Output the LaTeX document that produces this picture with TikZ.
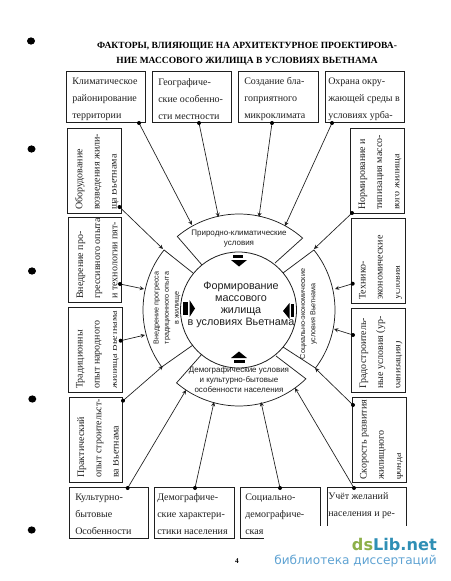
\documentclass[tikz,border=0pt]{standalone}
\usepackage{fontspec}
\setmainfont{Liberation Serif}
\setsansfont{Liberation Sans}
\newfontfamily\wmfont{DejaVu Sans}
\usetikzlibrary{arrows.meta,calc}
\definecolor{ink}{gray}{0.12}
\definecolor{wmgreen}{HTML}{8DB04A}
\definecolor{wmteal}{HTML}{2F8FB5}
\definecolor{wmblue}{HTML}{5FA3D3}
\tikzset{
  x=.75pt,y=-.75pt,
  boxst/.style={draw=ink,line width=.6pt,inner sep=0pt,fill=white},
  lbl/.style={text=ink,inner sep=0pt,align=left,anchor=west,font=\fontsize{7.5}{12.9}\selectfont},
  vlbl/.style={lbl,rotate=90},
  sect/.style={draw=ink,line width=.55pt},
  stxt/.style={text=ink,inner sep=0pt,align=center,font=\sffamily\fontsize{6}{7.4}\selectfont},
  stxtv/.style={stxt,rotate=90,font=\sffamily\fontsize{5.4}{7.6}\selectfont},
  conn/.style={draw=ink,line width=.5pt,-{Stealth[length=3.2pt,width=3pt]}},
  enddot/.style={fill=black,draw=none},
  solid black/.style={fill=black,draw=none},
  cover/.style={fill=white,draw=none}
}
\newcommand\bx[5]{%
  \pgfmathsetlengthmacro\bw{(#4-#2)*.75}%
  \pgfmathsetlengthmacro\bh{(#5-#3)*.75}%
  \node[boxst,minimum width=\bw,minimum height=\bh] (#1) at ({(#2+#4)/2},{(#3+#5)/2}) {};}
\newcommand\cn[4]{%
  \coordinate (#1) at (#2); \coordinate (#3) at (#4);
  \draw[conn] (#1) -- (#3); \fill[enddot] (#1) circle[radius=2];}
\begin{document}
\begin{tikzpicture}
\useasboundingbox (0,0) rectangle (450,581);
\fill[white] (0,0) rectangle (450,581);
% ink blots
\foreach \bxx/\byy in {31/41,31.5/149,32/271,32.3/399,31.7/530}
  \fill[solid black] (\bxx,\byy) ellipse[x radius=4,y radius=3.6];
% title
\node[text=black,inner sep=0pt,font=\bfseries\fontsize{7.1}{11.2}\selectfont,align=center] (title) at (247,53.5)
  {ФАКТОРЫ, ВЛИЯЮЩИЕ НА АРХИТЕКТУРНОЕ ПРОЕКТИРОВА-\\НИЕ МАССОВОГО ЖИЛИЩА В УСЛОВИЯХ ВЬЕТНАМА};
% top row
\bx{t1}{66.5}{71.5}{145.5}{122.5}
\bx{t2}{152.5}{71.5}{231.5}{122.5}
\bx{t3}{238.5}{71.5}{318}{122.5}
\bx{t4}{325}{71.5}{404}{122.5}
\node[lbl] (t1t) at (72,99) {Климатическое\\районирование\\территории};
\node[lbl] (t2t) at (158,99) {Географиче-\\ские особенно-\\сти местности};
\node[lbl] (t3t) at (244,99) {Создание бла-\\гоприятного\\микроклимата};
\node[lbl] (t4t) at (328,99) {Охрана окру-\\жающей среды в\\условиях урба-};
% left column
\bx{l1}{67}{128}{121}{213}
\bx{l2}{68}{217}{121.5}{302}
\bx{l3}{68.5}{307}{122}{392}
\bx{l4}{69}{397}{122.5}{482}
\node[vlbl] (l1t) at (97,210) {Оборудование\\возведения жили-\\ща Вьетнама};
\node[vlbl] (l2t) at (97,299) {Внедрение про-\\грессивного опыта\\и технологии пят-};
\node[vlbl] (l3t) at (97.5,389) {Традиционны\\опыт народного\\жилища Вьетнама};
\node[vlbl] (l4t) at (98,478) {Практический\\опыт строительст-\\ва Вьетнама};
% third lines are cut by the cell in the scan
\fill[cover] (106,130) rectangle (112,211);
\fill[cover] (106,219) rectangle (112,300);
\fill[cover] (106.5,309) rectangle (112.5,390);
\fill[cover] (107,399) rectangle (113,480);
% right column
\bx{r1}{350}{128}{404}{213}
\bx{r2}{351}{218}{405}{303}
\bx{r3}{351.5}{308}{405.5}{392}
\bx{r4}{352}{397}{406}{482}
\node[vlbl] (r1t) at (380,210) {Нормирование и\\типизация массо-\\вого жилища};
\node[vlbl] (r2t) at (380.5,300) {Технико-\\экономические\\условия};
\node[vlbl] (r3t) at (381,389) {Градостроитель-\\ные условия (ур-\\банизация)};
\node[vlbl] (r4t) at (381.5,480) {Скорость развития\\жилищного\\фонда};
\fill[cover] (389,130) rectangle (395,211);
\fill[cover] (389.5,220) rectangle (395.5,301);
\fill[cover] (390,310) rectangle (396,390);
\fill[cover] (390.5,399) rectangle (396.5,480);
% bottom row
\bx{b1}{69}{487}{148}{538}
\bx{b2}{154.5}{487}{234}{538}
\bx{b3}{240.5}{487}{320.5}{538}
\bx{b4}{327}{487}{406}{538}
\node[lbl] (b1t) at (75,514) {Культурно-\\бытовые\\Особенности};
\node[lbl] (b2t) at (157,514) {Демографиче-\\ские характери-\\стики населения};
\node[lbl] (b3t) at (245,514) {Социально-\\демографиче-\\ская};
\node[lbl,anchor=north west] (b4t) at (328,492) {Учёт желаний\\населения и ре-};
% centre
\coordinate (C) at (239,310);
\node[draw=ink,line width=.6pt,circle,minimum size=87pt,inner sep=0pt] (core) at (238.5,310) {};
\node[text=ink,inner sep=0pt,align=center,font=\sffamily\fontsize{8.1}{9}\selectfont] (coret) at (241,305) {Формирование\\массового\\жилища\\в условиях Вьетнама};
% sectors
\coordinate (s1) at (202,265); \coordinate (s2) at (275,263);
\coordinate (s3) at (193,273); \coordinate (s4) at (193,345);
\coordinate (s5) at (283,273); \coordinate (s6) at (283,347);
\coordinate (s7) at (202,354); \coordinate (s8) at (276,356);
\draw[sect] (s1) -- ($(C)+(230:96)$) arc[start angle=230,end angle=311.5,radius=96] -- (s2);
\draw[sect] (s7) -- ($(C)+(130.6:96)$) arc[start angle=130.6,end angle=45.8,radius=96] -- (s8);
\draw[sect] (s3) -- ($(C)+(218.7:96)$) arc[start angle=218.7,end angle=143.6,radius=96] -- (s4);
\draw[sect] (s5) -- ($(C)+(-38.7:96)$) arc[start angle=-38.7,end angle=37.2,radius=96] -- (s6);
\node[stxt] (stop) at (239,238.5) {Природно-климатические\\условия};
\node[stxt] (sbot) at (239,380) {Демографические условия\\и культурно-бытовые\\особенности населения};
\node[stxtv] (sleft) at (167,308) {Внедрение прогресса\\традиционного опыта\\в жилище};
\node[stxtv] (sright) at (308.5,314) {Социально-экономические\\условия Вьетнама};
% markers
\fill[solid black] (233,255) rectangle (243,258);
\fill[solid black] (231,260) -- (247,260) -- (239,266.5) -- cycle;
\fill[solid black] (234,360) rectangle (245,363);
\fill[solid black] (231,358) -- (247,358) -- (239,351.5) -- cycle;
\fill[solid black] (183,302) rectangle (188,315);
\fill[solid black] (189.5,300) -- (189.5,317) -- (195,308.5) -- cycle;
\fill[solid black] (291,304) rectangle (294,317);
\fill[solid black] (289.5,303) -- (289.5,319) -- (283,311) -- cycle;
% connectors
\cn{a1}{139,123}{e1}{192,225}
\cn{a2}{199,123}{e2}{218.5,217}
\cn{a3}{272,123}{e3}{259,217}
\cn{a4}{332,123}{e4}{285,226}
\cn{a5}{119.5,207}{e5}{163,249}
\cn{a6}{120,284}{e6}{144,289}
\cn{a7}{120.7,340.7}{e7}{145,335}
\cn{a8}{123,400.7}{e8}{163,366}
\cn{a9}{127.7,488}{e9}{186,390}
\cn{a10}{195,488}{e10}{214,402}
\cn{a11}{280,488}{e11}{261,402}
\cn{a12}{354,488}{e12}{295,388}
\cn{a13}{352,213}{e13}{314,249}
\cn{a14}{352.7,283.7}{e14}{335,289}
\cn{a15}{353,335}{e15}{334,329}
\cn{a16}{353,405}{e16}{315,368}
% page number
\node[text=black,inner sep=0pt,font=\bfseries\fontsize{5.5}{6}\selectfont] (pg) at (237,561) {4};
% watermark
\fill[white] (264,526) rectangle (450,581);
\node[inner sep=0pt,anchor=east,font=\wmfont\bfseries\fontsize{12.1}{14}\selectfont] (wm1) at (437,544) {\textcolor{wmgreen}{ds}\textcolor{wmteal}{Lib.net}};
\node[inner sep=0pt,anchor=east,text=wmblue,font=\wmfont\fontsize{9.1}{11}\selectfont] (wm2) at (437,561) {библиотека диссертаций};
\end{tikzpicture}
\end{document}
